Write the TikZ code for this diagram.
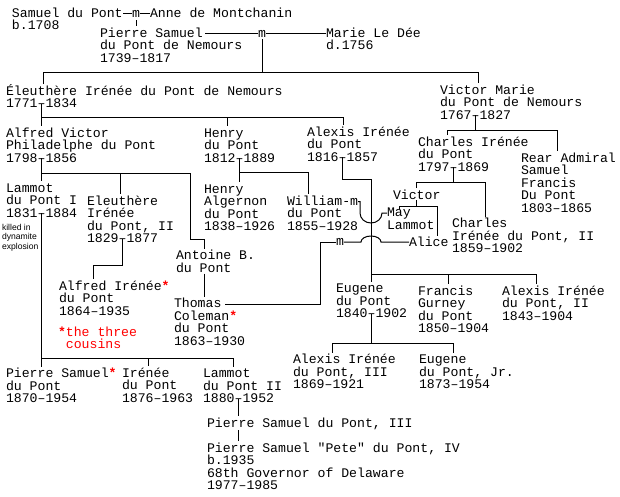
\documentclass[tikz,border=0pt]{standalone}
\usepackage{fontspec}
\newfontfamily\monofam{Liberation Mono}
\newfontfamily\sansfam{Liberation Sans}
\usetikzlibrary{calc}
\newcommand\pfst{\rule{0pt}{13pt}}
\newcommand\sfst{\rule{0pt}{9pt}}
\newcommand\rstar{\textcolor{red}{\textbf{*}}}
\newcommand\pfont{\monofam\fontsize{13.17}{12.5}\selectfont\lineskiplimit=-100pt\lineskip=0pt\relax}
\newcommand\nfont{\monofam\fontsize{13.17}{12.5}\selectfont\lineskiplimit=-100pt\lineskip=0pt\relax}
\newcommand\sfont{\sansfam\fontsize{8.6}{9.3}\selectfont\lineskiplimit=-100pt\lineskip=0pt\relax}
\newcommand\mfont{\monofam\fontsize{13.17}{12.5}\selectfont}
\begin{document}
\begin{tikzpicture}[x=1pt,y=1pt,
  person/.style={anchor=north west,inner sep=0pt,outer sep=0pt,align=left,font={\pfont}},
  note/.style={person,text=red,font={\nfont}},
  small/.style={anchor=north west,inner sep=0pt,outer sep=0pt,align=left,font={\sfont}},
  mar/.style={anchor=base,inner sep=0pt,outer sep=0pt,font={\mfont}},
  link/.style={line width=1pt},
  drop/.style={link,shorten >=-2pt},
  tail/.style={shorten <=-2pt}]
\fill[white] (0,0) rectangle (620,-496);
\useasboundingbox (0,0) rectangle (620,-496);

% people
\node[person] (sdp) at (12,-4) {\pfst Samuel du Pont\\b.1708};
\node[mar] (m1) at (136,-17) {m};
\node[person] (anne) at (150,-4) {\pfst Anne de Montchanin};
\node[person] (ps) at (100,-24) {\pfst Pierre Samuel\\du Pont de Nemours\\1739–1817};
\node[mar] (m2) at (262,-37) {m};
\node[person] (marie) at (326,-24) {\pfst Marie Le Dée\\d.1756};
\node[person] (ei) at (6,-82) {\pfst Éleuthère Irénée du Pont de Nemours\\1771–1834};
\node[person] (vm) at (440,-81) {\pfst Victor Marie\\du Pont de Nemours\\1767–1827};
\node[person] (avp) at (6,-124) {\pfst Alfred Victor\\Philadelphe du Pont\\1798–1856};
\node[person] (henry) at (204,-124) {\pfst Henry\\du Pont\\1812–1889};
\node[person] (aid) at (307,-123) {\pfst Alexis Irénée\\du Pont\\1816–1857};
\node[person] (cid) at (418,-133) {\pfst Charles Irénée\\du Pont\\1797–1869};
\node[person] (ra) at (521,-149) {\pfst Rear Admiral\\Samuel\\Francis\\Du Pont\\1803–1865};
\node[person] (lam) at (6,-179) {\pfst Lammot\\du Pont I\\1831–1884};
\node[small] (killed) at (2,-221.5) {\sfst killed in\\dynamite\\explosion};
\node[person] (eid2) at (87,-192) {\pfst Eleuthère\\Irénée\\du Pont, II\\1829–1877};
\node[person] (ha) at (204,-180) {\pfst Henry\\Algernon\\du Pont\\1838–1926};
\node[person] (wil) at (287,-192) {\pfst William-m\\du Pont\\1855–1928};
\node[person] (victor) at (393,-186) {\pfst Victor};
\node[person] (may) at (387,-203.5) {\pfst May\\Lammot};
\node[person] (alice) at (409,-233) {\pfst Alice};
\node[person] (cid2) at (452,-214.5) {\pfst Charles\\Irénée du Pont, II\\1859–1902};
\node[person] (antoine) at (176,-246.5) {\pfst Antoine B.\\du Pont};
\node[person] (ai) at (59,-277) {\pfst Alfred Irénée\rstar\\du Pont\\1864–1935};
\node[note] (three) at (58,-323) {\pfst\textbf{*}the three\\~cousins};
\node[person] (tcd) at (174,-294.5) {\pfst Thomas\\Coleman\rstar\\du Pont\\1863–1930};
\node[mar] (m3) at (340,-245.5) {m};
\node[person] (eug) at (336,-279.5) {\pfst Eugene\\du Pont\\1840–1902};
\node[person] (fgd) at (418,-282) {\pfst Francis\\Gurney\\du Pont\\1850–1904};
\node[person] (aid2) at (502,-282) {\pfst Alexis Irénée\\du Pont, II\\1843–1904};
\node[person] (aid3) at (293,-350.5) {\pfst Alexis Irénée\\du Pont, III\\1869–1921};
\node[person] (eugjr) at (419,-350.5) {\pfst Eugene\\du Pont, Jr.\\1873–1954};
\node[person] (psd) at (6,-364.5) {\pfst Pierre Samuel\rstar\\du Pont\\1870–1954};
\node[person] (ird) at (122,-364) {\pfst Irénée\\du Pont\\1876–1963};
\node[person] (lam2) at (203,-364.5) {\pfst Lammot\\du Pont II\\1880–1952};
\node[person] (ps3) at (207,-414) {\pfst Pierre Samuel du Pont, III};
\node[person] (ps4) at (207,-439) {\pfst Pierre Samuel "Pete" du Pont, IV\\b.1935\\68th Governor of Delaware\\1977–1985};

% dash points and bus levels
\coordinate (d-ei) at ($(ei.north west)+(35.55,-21.5)$);
\coordinate (d-vm) at ($(vm.north west)+(35.55,-34)$);
\coordinate (d-avp) at ($(avp.north west)+(35.55,-34)$);
\coordinate (d-henry) at ($(henry.north west)+(35.55,-34)$);
\coordinate (d-aid) at ($(aid.north west)+(35.55,-34)$);
\coordinate (d-cid) at ($(cid.north west)+(35.55,-34)$);
\coordinate (d-lam) at ($(lam.north west)+(35.55,-34)$);
\coordinate (d-eid2) at ($(eid2.north west)+(35.55,-46.5)$);
\coordinate (d-eug) at ($(eug.north west)+(35.55,-34)$);
\coordinate (d-lam2) at ($(lam2.north west)+(35.55,-34)$);
\coordinate (bus1) at (0,-72);
\coordinate (bus2) at (0,-117);
\coordinate (bus3) at (0,-130);
\coordinate (bus4) at (0,-173);
\coordinate (bus5) at (0,-358);
\coordinate (bus6) at (0,-172);
\coordinate (bus7) at (0,-274);
\coordinate (bus8) at (0,-182);
\coordinate (bus9) at (0,-206);
\coordinate (bus10) at (0,-343);
\coordinate (bus11) at (0,-265);
\coordinate (k1) at (190,-239);
\coordinate (k2) at (371,-179);
\coordinate (wm) at ($(wil.north west)+(71.1,-9.5)$);
\coordinate (tm) at ($(tcd.north west)+(51,-9.5)$);

% marriages
\draw[link] (m1.west) -- (m1.west -| sdp.east);
\draw[link] (m1.east) -- (m1.east -| anne.west);
\draw[drop] ([yshift=-3pt]m1.south) -- (m1.south |- ps.north);
\draw[link] (m2.west) -- ($(ps.north west |- m2.west)+(105,0)$);
\draw[link] (m2.east) -- (m2.east -| marie.west);

% children
\draw[link] ([yshift=-2pt]m2.south) -- (m2.south |- bus1);
\draw[drop,tail] ([xshift=37pt]ei.north west) -- ([xshift=37pt]ei.north west |- bus1) -| ([xshift=38pt]vm.north west);

\draw[drop] (d-ei) -- (d-ei |- avp.north);
\draw[drop] (d-ei |- bus2) -| ([xshift=23pt]henry.north west);
\draw[drop] (d-ei |- bus2) -| ([xshift=36pt]aid.north west);

\draw[link] (d-vm) -- (d-vm |- bus3);
\draw[drop,tail] ([xshift=29pt]cid.north west) -- ([xshift=29pt]cid.north west |- bus3) -| ([xshift=36pt]ra.north west);

\draw[drop] (d-avp) -- (d-avp |- lam.north);
\draw[drop] (d-avp |- bus4) -| ([xshift=33pt]eid2.north west);
\draw[drop] (d-avp |- bus4) -| (k1) -| ([xshift=28pt]antoine.north west);

\draw[drop] (d-lam) -- (d-lam |- psd.north);
\draw[drop] (d-lam |- bus5) -| ([xshift=26pt]ird.north west);
\draw[drop] (d-lam |- bus5) -| ([xshift=30pt]lam2.north west);

\draw[drop] (d-henry) -- (d-henry |- ha.north);
\draw[drop] (d-henry |- bus6) -| ([xshift=21pt]wil.north west);

\draw[drop] (d-aid) |- (k2) -- ([xshift=35pt]eug.north west);
\draw[drop] (k2 |- bus7) -| ([xshift=30pt]fgd.north west);
\draw[drop] (k2 |- bus7) -| ([xshift=34pt]aid2.north west);

\draw[link] (d-cid) -- (d-cid |- bus8);
\draw[drop,tail] (victor.north) -- (victor.north |- bus8) -| ([xshift=33pt]cid2.north west);

\draw[link] ([yshift=-1pt]victor.south) -- (victor.south |- bus9);
\draw[link] ([xshift=12pt]may.north west |- 0,-209) -- ([xshift=12pt]may.north west |- bus9) -| ([xshift=28pt,yshift=-3pt]alice.north west);

\draw[drop] (d-eid2) -- (d-eid2 |- bus11) -| ([xshift=34pt]ai.north west);
\draw[drop] ([xshift=28pt,yshift=-1.5pt]antoine.south west) -- ([xshift=30pt]tcd.north west);

\draw[link] (d-eug) -- (d-eug |- bus10);
\draw[drop,tail] ([xshift=39pt]aid3.north west) -- ([xshift=39pt]aid3.north west |- bus10) -| ([xshift=34pt]eugjr.north west);

\draw[drop] (d-lam2) -- (d-lam2 |- ps3.north);
\draw[drop] ([yshift=-1pt]d-lam2 |- ps3.south) -- (d-lam2 |- ps4.north);

% marriage lines with jumps
\draw[link] (wm) -- (360,-201.5) -- (360,-213) arc[start angle=180,end angle=360,x radius=11,y radius=10] -- (may.west |- 0,-213);
\draw[link] (tm) -- (320,-304) -- (320,-242) -- (m3.west |- 0,-242);
\draw[link] (m3.east |- 0,-242) -- (361,-242) arc[start angle=180,end angle=0,x radius=10,y radius=6] -- (alice.west |- 0,-242);
\end{tikzpicture}
\end{document}
